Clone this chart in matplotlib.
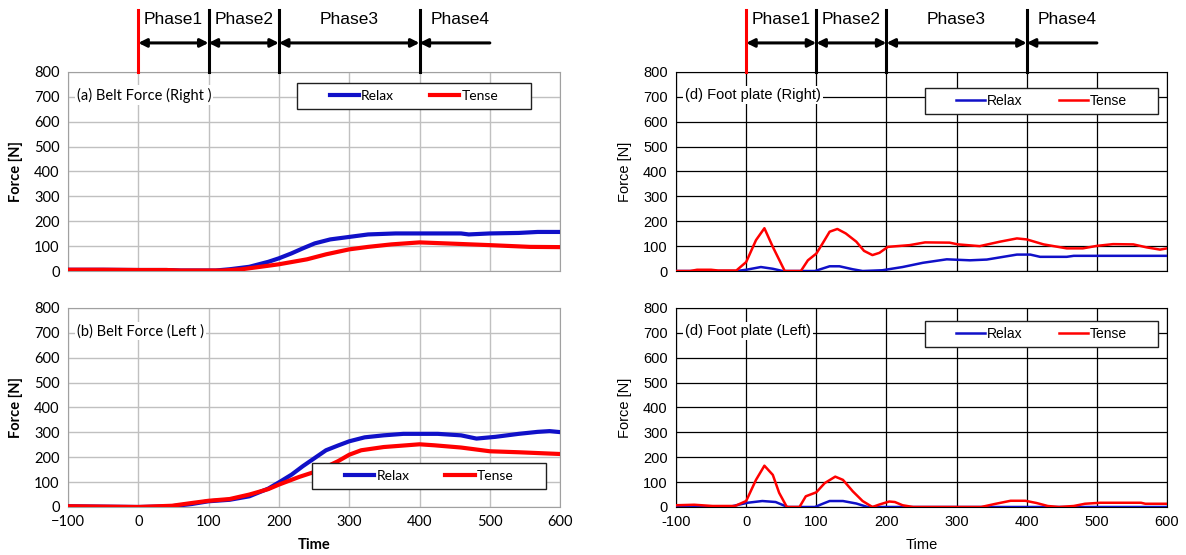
import matplotlib.pyplot as plt
from matplotlib.patches import Rectangle

# ---- data ----
xticks = [-100, 0, 100, 200, 300, 400, 500, 600]
yticks = [0, 100, 200, 300, 400, 500, 600, 700, 800]
phase_bounds = [0, 100, 200, 400]
phase_end = 500
phase_names = ["Phase1", "Phase2", "Phase3", "Phase4"]
phase_label_x = [50, 150, 300, 458]

# (a) belt force right
a_t_relax = [-100, -50, 0, 40, 60, 110, 130, 158, 185, 200, 218, 234, 251, 273, 300, 327, 366, 400, 459, 470,
             500, 541, 568, 600]
a_relax = [5, 5, 4, 4, 2, 2, 7, 17, 37, 51, 71, 91, 111, 127, 137, 147, 151, 151, 151, 147, 151, 153, 157, 157]
a_t_tense = [-100, -50, 0, 40, 60, 120, 147, 174, 200, 240, 267, 300, 327, 360, 400, 437, 500, 557, 600]
a_tense = [5, 5, 4, 4, 2, 2, 7, 17, 27, 47, 67, 87, 97, 107, 115, 111, 104, 97, 96]

# (b) belt force left
b_t_relax = [-100, 0, 48, 76, 100, 130, 158, 185, 200, 218, 234, 251, 267, 284, 300, 322, 349, 377, 426, 459,
             481, 508, 541, 568, 585, 600]
b_relax = [3, 0, 3, 12, 23, 29, 43, 74, 99, 130, 164, 197, 228, 247, 264, 280, 288, 294, 294, 288, 275, 282,
           294, 302, 305, 301]
b_t_tense = [-100, 0, 48, 76, 100, 130, 158, 185, 200, 229, 256, 284, 300, 317, 349, 400, 421, 459, 500, 541, 600]
b_tense = [3, 0, 5, 16, 25, 32, 50, 72, 90, 121, 146, 184, 210, 228, 241, 252, 248, 239, 224, 220, 213]

# (d) foot plate right
c_t_relax = [-100, -14, 0, 21, 38, 52, 98, 119, 133, 152, 166, 194, 223, 252, 286, 319, 343, 386, 405, 419,
             457, 467, 600]
c_relax = [0, 0, 5, 16, 9, 0, 0, 19, 19, 7, 0, 3, 16, 33, 47, 43, 46, 66, 66, 57, 57, 61, 61]
c_t_tense = [-100, -80, -70, -50, -40, -14, 0, 14, 26, 38, 55, 78, 88, 100, 109, 119, 130, 142, 157, 168, 180,
             190, 202, 233, 255, 290, 302, 333, 362, 386, 400, 424, 457, 480, 500, 523, 552, 571, 590, 600]
c_tense = [0, 0, 5, 5, 2, 2, 36, 124, 172, 97, 0, 0, 43, 70, 111, 158, 169, 151, 118, 81, 64,
           73, 97, 104, 115, 114, 107, 100, 118, 131, 127, 107, 91, 91, 101, 108, 107, 95, 86, 91]

# (d) foot plate left
d_t_relax = [-100, -20, -14, 2, 23, 42, 59, 98, 110, 119, 138, 157, 173, 600]
d_relax = [3, 3, 7, 17, 24, 20, 0, 0, 14, 24, 24, 14, 0, 0]
d_t_tense = [-100, -74, -48, -16, 0, 14, 26, 38, 47, 58, 76, 85, 100, 112, 127, 138, 152, 166, 180, 190, 204,
             212, 223, 238, 335, 356, 377, 398, 414, 430, 446, 467, 483, 505, 563, 569, 600]
d_tense = [7, 9, 4, 4, 24, 109, 166, 129, 57, 0, 0, 43, 59, 96, 122, 109, 63, 24, 0, 10, 22,
           20, 7, 0, 0, 13, 25, 25, 16, 4, 0, 4, 13, 17, 17, 13, 13]

panels = [
    # title, relax, tense, axes position, style, show x labels, legend box (axes fraction)
    ("(a) Belt Force (Right )", (a_t_relax, a_relax), (a_t_tense, a_tense),
     [0.0573, 0.5117, 0.415, 0.3586], "excel", False, (0.465, 0.814, 0.476, 0.131)),
    ("(b) Belt Force (Left )", (b_t_relax, b_relax), (b_t_tense, b_tense),
     [0.0573, 0.0865, 0.415, 0.3586], "excel", True, (0.496, 0.0905, 0.476, 0.131)),
    ("(d) Foot plate (Right)", (c_t_relax, c_relax), (c_t_tense, c_tense),
     [0.570, 0.5117, 0.414, 0.3586], "plain", False, (0.507, 0.789, 0.475, 0.131)),
    ("(d) Foot plate (Left)", (d_t_relax, d_relax), (d_t_tense, d_tense),
     [0.570, 0.0865, 0.414, 0.3586], "plain", True, (0.507, 0.804, 0.475, 0.131)),
]

fig = plt.figure(figsize=(11.86, 5.55), dpi=100)

for title, relax, tense, pos, style, show_x, leg_box in panels:
    ax = fig.add_axes(pos)
    excel = style == "excel"
    font = "Lato" if excel else "Liberation Sans"
    lw = 3.0 if excel else 1.8
    ax.plot(relax[0], relax[1], color="#1010c8", lw=lw, label="Relax", zorder=3,
            solid_joinstyle="round")
    ax.plot(tense[0], tense[1], color="#ff0000", lw=lw, label="Tense", zorder=4,
            solid_joinstyle="round")
    ax.set_xlim(-100, 600)
    ax.set_ylim(0, 800)
    ax.set_xticks(xticks)
    ax.set_yticks(yticks)
    ax.tick_params(length=0, pad=6, labelsize=10.5)
    if show_x:
        if excel:
            labels = [str(t).replace("-", "\u2212") for t in xticks]
        else:
            labels = [str(t) for t in xticks]
        ax.set_xticklabels(labels, fontfamily=font)
        ax.set_xlabel("Time", fontfamily=font, fontsize=10.5,
                      fontweight="bold" if excel else "normal", labelpad=6)
    else:
        ax.set_xticklabels([])
    ax.set_yticklabels([str(t) for t in yticks], fontfamily=font)
    ax.set_ylabel("Force [N]", fontfamily=font, fontsize=10.5,
                  fontweight="bold" if excel else "normal", labelpad=8)
    if excel:
        ax.grid(True, color="#c0c0c0", lw=1.0)
        for s in ax.spines.values():
            s.set_color("#a0a0a0")
    else:
        ax.grid(True, color="black", lw=0.9)
        for s in ax.spines.values():
            s.set_color("black")
    ax.set_axisbelow(True)
    ax.text(0.018, 0.884, title, transform=ax.transAxes, fontfamily=font, fontsize=10.5,
            va="center", ha="left", bbox=dict(facecolor="white", edgecolor="none", pad=1.5), zorder=5)

    # legend: framed box with the two entries centred inside
    x0, y0, w, h = leg_box
    ax.add_patch(Rectangle((x0, y0), w, h, transform=ax.transAxes, facecolor="white",
                           edgecolor="#202020", lw=1.0, zorder=5))
    leg = ax.legend(loc="center", bbox_to_anchor=(x0 + w / 2, y0 + h / 2), ncol=2, frameon=False,
                    prop={"family": font, "size": 10}, handlelength=2.1, handletextpad=0.15,
                    columnspacing=2.6, borderpad=0)
    leg.set_zorder(6)

    if pos[1] > 0.5:
        trans = ax.get_xaxis_transform()
        for xb in phase_bounds:
            ax.plot([xb, xb], [1.0, 1.31], transform=trans, clip_on=False,
                    color="red" if xb == 0 else "black", lw=2.2, zorder=7)
        ends = phase_bounds + [phase_end]
        for i in range(len(phase_names)):
            style_a = "<|-|>" if i < len(phase_names) - 1 else "<|-"
            ax.annotate("", xy=(ends[i + 1], 1.146), xytext=(ends[i], 1.146),
                        xycoords=trans, textcoords=trans, annotation_clip=False,
                        arrowprops=dict(arrowstyle=style_a, color="black", lw=2.2,
                                        mutation_scale=12, shrinkA=0, shrinkB=0))
        for lx, name in zip(phase_label_x, phase_names):
            ax.text(lx, 1.265, name, transform=trans, ha="center", va="center",
                    fontfamily="Liberation Sans", fontsize=12.5)

fig.savefig("out.png", dpi=100)
